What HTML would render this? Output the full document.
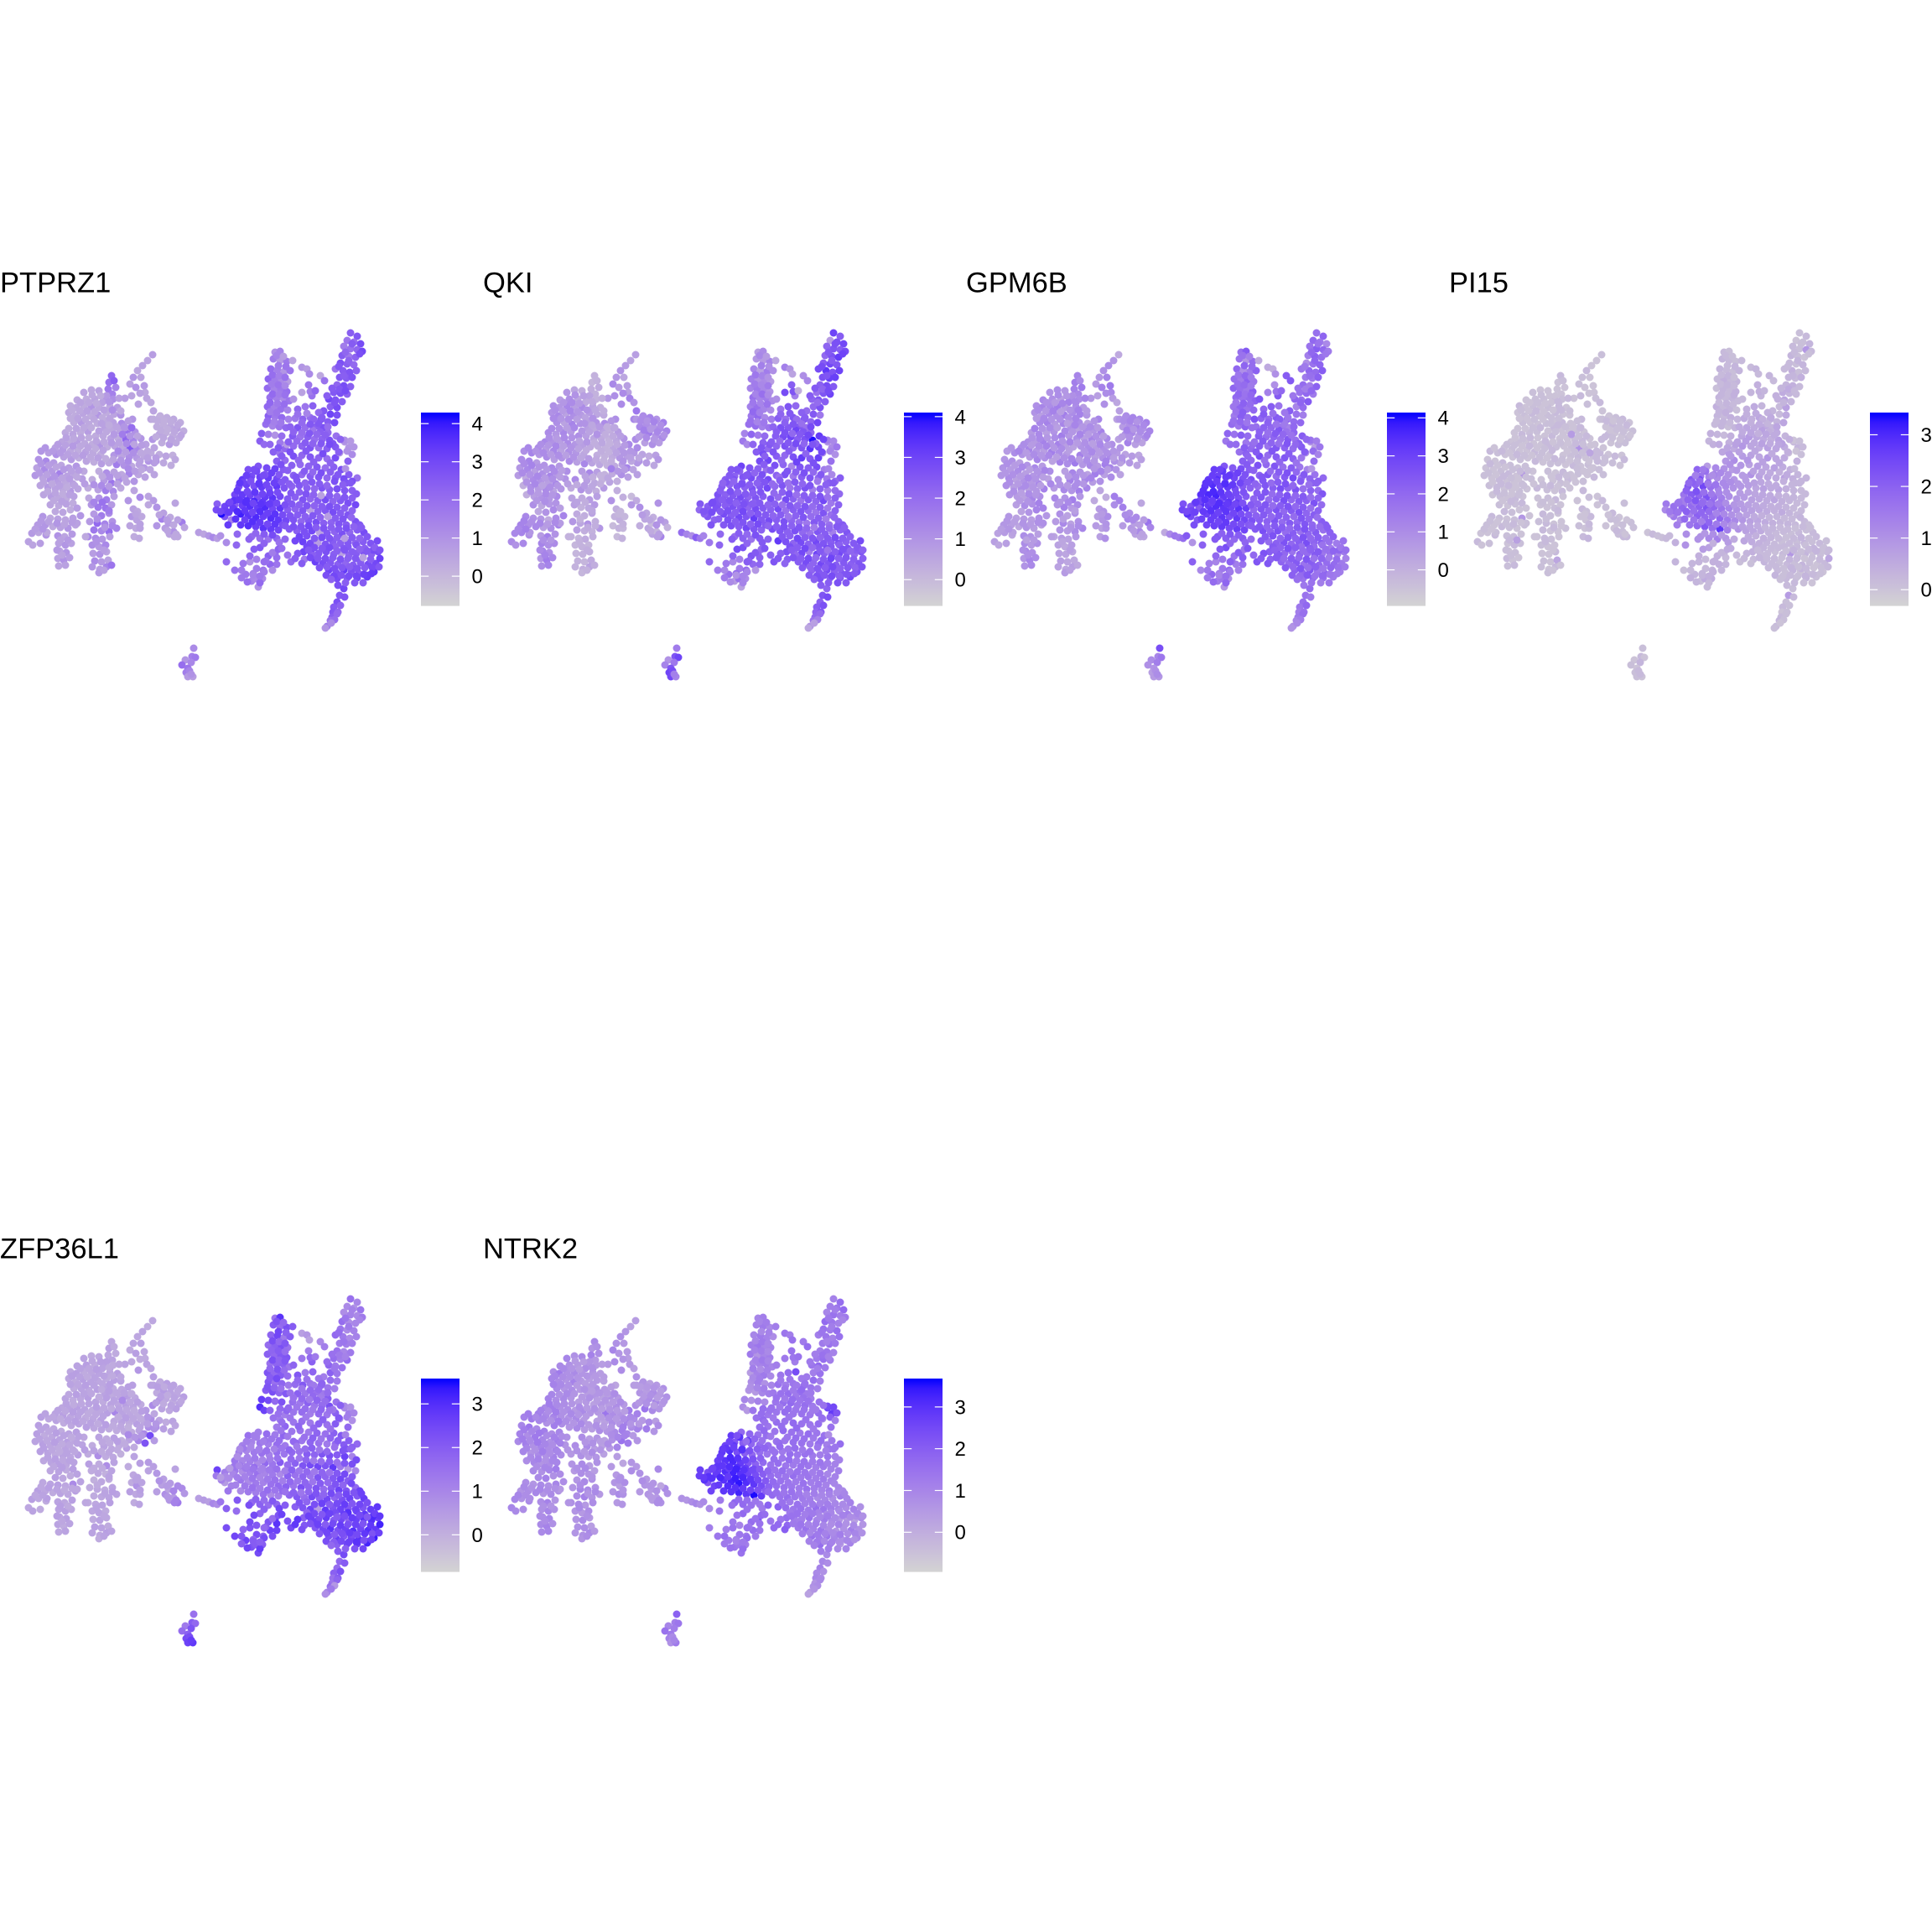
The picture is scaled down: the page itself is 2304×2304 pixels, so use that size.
<!DOCTYPE html>
<html lang="en">
<head>
<meta charset="utf-8">
<title>Feature plots</title>
<style>
html,body{margin:0;padding:0;background:#fff;}
svg{display:block;}
text{font-family:"Liberation Sans",sans-serif;fill:#000;}
</style>
</head>
<body>
<svg id="chart" xmlns="http://www.w3.org/2000/svg" width="2304" height="2304" viewBox="0 0 2304 2304">
<rect x="0" y="0" width="2304" height="2304" fill="#ffffff"/>
</svg>
<script>
const geneNames = ["PTPRZ1","QKI","GPM6B","PI15","ZFP36L1","NTRK2"];
const limitsLow = [-0.78,-0.645,-0.95,-0.314,-0.85,-0.95];
const limitsHigh = [4.29,4.10,4.14,3.43,3.58,3.68];
const tickLabels = [[0,1,2,3,4],[0,1,2,3,4],[0,1,2,3,4],[0,1,2,3],[0,1,2,3],[0,1,2,3]];

const umap1 = [
18.2,17.6,17.0,16.4,16.8,15.9,15.5,16.2,15.7,14.9,17.3,16.5,13.3,13.0,13.6,12.9,13.4,13.8,13.1,12.6,
16.7,17.5,18.0,18.3,18.0,19.0,17.2,15.8,10.0,10.9,11.8,12.7,13.5,14.2,9.2,10.3,11.3,12.2,13.1,14.0,
8.4,9.1,10.0,10.9,11.8,12.7,13.6,14.4,8.2,9.0,9.9,10.8,11.7,12.6,13.5,14.5,15.3,8.8,9.7,10.6,
11.6,12.5,13.4,14.3,15.2,16.1,7.8,8.7,9.6,10.5,11.4,12.3,13.2,14.1,15.0,15.9,16.8,7.4,8.3,9.2,
10.1,11.0,11.9,12.8,13.7,14.6,15.5,16.4,6.6,7.5,8.4,9.3,10.2,11.1,12.0,13.6,14.5,15.4,16.3,17.2,
4.9,5.8,6.7,7.6,8.5,9.4,10.3,11.2,12.1,13.0,13.9,14.8,15.7,16.6,4.6,5.5,6.4,7.3,8.2,9.1,
10.0,11.8,12.7,13.6,14.5,15.4,16.3,4.4,5.3,6.2,7.1,8.0,8.9,9.8,11.0,12.4,13.3,14.2,15.1,16.0,
4.2,5.1,6.0,6.9,7.8,8.7,4.8,5.7,6.6,7.5,8.4,9.3,10.5,11.7,12.6,13.5,14.4,5.2,6.1,7.0,
7.9,8.8,10.6,11.8,12.7,13.6,6.0,7.0,7.9,8.7,10.9,11.7,12.6,13.3,6.6,7.5,8.4,9.2,11.2,12.1,
13.0,5.1,6.0,6.9,7.8,8.7,9.6,10.7,11.6,12.5,13.4,4.5,5.4,6.3,7.2,8.1,9.0,11.2,12.1,13.0,
13.9,3.8,4.6,5.5,6.9,7.7,8.6,10.5,11.4,12.2,13.1,3.4,3.9,4.8,7.0,7.8,11.0,11.8,12.6,8.5,
7.1,7.9,6.9,7.6,8.3,7.0,7.8,6.8,11.1,11.9,12.7,11.3,12.1,12.9,11.0,11.9,12.7,13.3,11.8,12.4,
18.3,19.1,19.9,20.7,21.5,18.7,19.5,20.3,21.1,21.9,19.0,19.8,20.6,21.4,18.2,19.3,20.2,21.0,17.4,18.0,
19.0,19.8,20.6,18.6,19.5,20.4,20.9,17.2,17.9,18.4,16.5,17.3,15.3,16.1,16.9,17.7,18.4,16.7,17.6,18.4,
15.9,16.4,15.7,16.3,16.9,15.5,16.2,16.7,16.0,16.6,16.7,17.7,18.3,17.7,18.7,19.5,20.3,21.7,22.0,18.7,
19.7,20.2,21.2,20.7,21.2,19.3,20.1,20.8,20.9,15.3,16.0,10.2,5.6,9.2,23.7,24.3,24.9,25.4,25.9,26.3,
41.8,42.6,41.4,42.2,43.0,41.0,41.8,42.6,43.2,40.8,41.6,42.4,40.6,41.4,42.2,40.0,40.9,41.7,42.5,40.5,
41.3,40.2,41.0,41.8,39.8,40.6,41.4,39.2,40.0,40.8,39.4,40.2,38.6,39.4,40.2,38.3,39.1,39.9,37.8,38.6,
32.8,33.4,32.6,33.4,34.2,34.9,32.3,33.1,33.9,34.6,32.0,32.8,33.6,34.3,31.9,32.7,33.5,34.2,32.2,33.0,
33.8,34.5,31.9,32.7,33.5,34.3,32.0,32.8,33.6,34.4,31.7,32.5,33.3,34.1,31.2,32.0,32.8,33.6,31.0,31.5,
35.0,36.0,36.8,37.2,35.5,36.4,37.3,38.0,35.2,36.1,37.0,38.0,34.6,35.5,36.4,37.3,38.2,39.1,34.9,35.8,
36.0,36.6,36.9,38.2,38.7,37.0,37.6,36.7,37.5,38.4,39.3,40.1,33.4,34.0,32.6,33.4,34.2,35.0,36.0,37.0,
38.0,39.0,40.0,41.1,41.6,33.0,34.0,35.0,36.0,37.0,38.0,39.0,40.0,41.5,30.8,31.8,32.8,33.8,34.8,35.8,
36.8,37.8,38.8,39.8,40.7,41.6,42.6,30.0,31.0,32.0,33.0,34.0,35.0,36.0,37.0,38.0,39.0,40.0,41.0,42.0,
28.5,29.4,30.3,31.2,32.1,33.0,33.9,34.8,35.7,36.6,37.5,38.4,39.3,40.2,41.1,42.0,28.0,28.9,29.8,30.7,
31.6,32.5,33.4,34.3,35.2,36.1,37.0,37.9,38.8,39.7,40.6,41.5,42.4,28.0,28.9,29.8,30.7,31.6,32.5,33.4,
34.3,35.2,36.1,37.0,37.9,38.8,39.7,40.6,41.5,25.9,26.8,27.8,28.7,29.6,30.5,31.4,32.3,33.2,34.1,35.0,
35.9,36.8,37.7,38.6,39.5,40.4,41.3,42.4,26.8,27.6,28.7,29.6,30.5,31.4,32.3,33.2,34.5,35.4,36.3,37.2,
38.1,39.0,39.9,40.8,41.7,42.6,43.4,30.0,31.0,32.0,33.0,35.2,36.1,37.0,37.9,38.8,39.7,40.6,41.5,42.4,
43.3,44.2,45.0,36.2,37.1,38.0,38.9,39.8,40.7,41.6,42.5,43.4,44.3,45.1,37.6,38.5,39.4,40.3,41.2,42.1,
43.0,43.9,44.8,45.3,39.2,40.1,41.0,41.9,42.8,43.7,44.6,40.2,41.4,42.6,43.8,40.3,41.0,40.5,41.1,40.2,
39.8,40.6,39.7,40.3,39.6,40.2,39.4,39.9,39.0,39.5,38.8,28.3,29.7,31.0,32.0,33.3,34.0,30.3,31.5,32.8,
33.0,31.3,30.8,30.0,29.3,28.8,28.0,27.0,27.0,29.8,30.6,31.4,32.2,33.0,34.7,36.3,37.3,35.5,30.5,31.5,
41.1,41.8,42.2,41.4,42.0,29.6,30.6,31.6,28.9,29.9,30.9,28.6,25.8,26.4,27.3,27.9,29.3,30.3,31.3,32.3,
23.1,22.9,23.3,22.1,21.7,22.8,22.4,22.2,22.6,22.4,23.0,22.8,41.5,42.5,43.5,44.5,40.0,41.0,42.0,43.0,
33.6,34.6,35.6,36.5,37.4,38.5,39.4,40.5,41.2,31.4,32.4,33.3,34.3,35.3,36.3,37.3,38.3,39.4,40.3,41.3,
29.0,29.9,30.9,31.8,32.7,33.6,34.5,35.4,36.4,37.2,38.1,39.0,39.9,40.9,41.8,42.5,28.3,29.5,30.4,31.3,
32.2,33.1,34.7,35.7,36.5,37.4,38.3,39.3,40.2,41.1,42.0,26.9,27.4,28.5,29.4,30.2,31.1,32.1,33.0,34.0,
34.8,35.7,36.6,37.5,38.4,39.3,40.2,41.1,42.0,26.3,27.3,28.3,29.2,30.1,31.0,31.9,32.8,33.7,34.6,35.5,
36.4,37.3,38.2,39.1,40.0,40.9,41.9,42.9,27.2,28.1,29.2,30.1,31.0,31.9,32.8,33.7,34.0,35.0,35.9,36.8,
37.7,38.6,39.5,40.4,41.3,42.2,43.1,30.5,31.5,32.5,35.7,36.6,37.5,38.4,39.3,40.2,41.1,42.0,42.9,43.8,
36.6,37.5,38.4,39.3,40.2,41.1,42.0,42.9,43.8,44.7,45.3,37.0,37.9,38.8,39.7,40.6,41.5,42.4,43.3,44.2,
38.1,39.0,39.9,40.8,41.7,42.6,43.5,44.4,45.2,38.9,39.8,40.7,41.6,42.5,43.4,44.3,41.2,42.3,43.3,39.5,
42.0,41.2,42.9,41.6,40.4,41.0,42.0,39.6,40.5,41.2,39.0,39.9,33.0,33.8,33.2,34.1,32.5,33.3,34.0,32.4,
33.2,34.0,32.5,33.3,34.0,32.2,33.1,33.9,32.2,33.0,31.9,32.7,33.5,35.5,36.6,37.4,38.4,39.1,36.0,37.0,
35.0,36.0,36.9,37.8,38.8,39.7,40.6,32.2,33.2,34.4,35.4,36.4,37.3,38.3,39.3,40.4,33.5,29.4,28.6,30.3,
28.8,29.5,30.2,31.0,31.7,32.5,33.2,29.0,29.8,30.6,31.5,32.5,33.6,34.3,35.2,36.0,36.8,30.2,31.0,28.2,
11.0,12.0,13.0,9.6,10.6,11.5,12.4,13.4,14.4,8.6,9.5,10.4,11.3,12.2,13.1,14.9,15.6,8.4,9.3,10.2,
11.2,12.1,13.0,13.9,14.8,15.7,8.2,9.1,10.0,10.9,11.8,12.7,13.6,14.6,15.5,16.4,7.9,8.8,9.7,10.6,
11.5,12.4,13.3,14.2,15.1,16.0,16.9,6.9,7.8,8.7,9.6,10.5,11.4,12.3,14.1,15.0,15.9,16.8,5.4,6.3,
7.2,8.1,9.0,9.9,10.8,11.7,12.6,13.5,14.4,15.3,4.9,5.8,6.7,7.6,8.5,9.4,12.2,13.1,14.0,14.9,
4.7,5.6,6.5,7.4,8.3,9.2,5.2,6.2,7.1,8.0,8.9,10.1,11.2,12.1,13.0,14.0,5.7,6.6,7.5,8.3,
6.4,7.4,11.2,12.2,13.0,4.9,5.8,6.8,7.7,8.6,11.6,12.5,13.4,4.2,5.1,7.2,8.1,7.4,11.5,12.4,
18.8,19.6,20.4,21.2,19.2,20.0,20.8,21.6,18.6,19.5,20.4,17.6,18.6,16.2,16.7,19.0,19.9,20.7,20.0,21.0
];
const umap2 = [
42.3,43.0,43.6,44.2,45.0,45.0,45.8,46.2,47.2,47.5,46.8,48.2,44.8,45.6,45.4,46.4,47.0,46.2,48.0,47.6,
46.9,47.5,48.0,49.0,50.0,49.8,46.0,50.0,46.8,46.5,46.6,47.2,47.6,47.5,47.7,47.6,47.6,48.0,48.5,48.6,
48.4,48.6,48.4,48.5,48.6,49.2,49.4,49.5,49.2,49.6,49.3,49.6,49.5,50.2,50.4,50.5,50.2,50.4,50.4,50.6,
50.5,51.0,51.2,51.4,51.3,51.5,51.6,51.8,51.6,51.5,52.0,52.0,52.3,52.3,52.4,52.6,52.3,52.7,52.8,52.6,
52.9,53.0,53.1,53.3,53.2,53.4,53.5,53.6,53.4,53.6,53.8,53.7,53.9,54.0,54.2,54.3,54.4,54.5,54.6,54.4,
53.8,54.0,54.2,54.5,54.8,54.6,55.0,55.1,55.3,55.2,55.4,55.5,55.6,55.4,54.8,55.0,55.2,55.5,55.8,55.6,
56.2,56.2,56.4,56.3,56.6,56.5,56.3,55.8,56.0,56.2,56.5,56.8,56.6,57.1,57.2,57.3,57.6,57.2,57.5,57.4,
56.7,57.0,57.2,57.4,57.6,57.7,57.9,58.1,58.3,58.4,58.6,58.3,58.2,58.4,58.5,58.6,58.2,59.0,59.2,59.4,
59.5,59.2,59.4,59.4,59.6,59.2,60.2,60.3,60.1,60.0,60.2,60.5,60.6,60.2,61.0,61.1,60.8,60.6,61.3,61.5,
61.2,61.6,61.8,61.9,62.0,61.8,61.5,62.2,62.4,62.5,62.2,62.6,62.6,62.8,62.9,63.0,62.6,63.2,63.3,63.4,
63.0,63.6,63.5,63.8,63.9,64.0,63.7,64.0,64.2,64.3,64.0,64.6,65.0,64.8,64.8,65.0,65.0,65.2,65.0,64.8,
65.7,65.9,66.6,66.8,66.5,67.5,67.4,65.6,66.0,66.1,65.8,66.9,67.0,66.8,67.6,67.9,67.6,67.4,68.3,68.0,
50.0,49.6,49.8,50.0,50.4,50.9,50.6,50.9,51.1,51.4,51.8,51.6,52.0,52.2,52.4,52.8,53.0,52.8,53.0,54.0,
54.2,54.4,54.3,55.0,55.2,55.5,54.8,55.8,56.0,55.2,56.6,56.9,55.9,56.2,56.0,55.0,56.6,55.0,53.8,53.4,
60.7,61.0,61.6,62.0,61.6,62.7,63.0,63.0,64.0,64.2,59.3,59.2,59.7,60.2,60.5,61.2,61.7,62.3,62.9,62.7,
63.0,63.7,64.0,63.4,62.0,61.9,62.4,64.0,60.0,59.7,58.5,64.0,63.5,62.4,63.5,63.7,63.9,64.1,64.2,63.9,
39.7,40.1,40.6,40.8,41.0,41.3,41.6,41.7,41.9,42.4,42.5,42.6,43.3,43.4,43.5,44.0,44.2,44.4,44.2,45.0,
45.1,45.9,46.0,46.1,46.8,46.9,47.0,47.6,47.7,47.9,48.5,48.6,49.0,49.4,49.5,50.0,50.3,50.4,50.8,51.0,
42.0,41.9,42.8,43.0,43.1,43.0,44.0,44.1,44.3,44.2,45.2,45.3,45.3,45.5,46.3,46.4,46.5,46.7,47.4,47.5,
47.5,47.8,48.5,48.6,48.8,48.9,49.6,49.7,49.8,50.0,50.6,50.8,50.9,51.0,51.7,51.8,51.9,52.0,52.6,53.0,
47.6,46.8,45.9,47.2,48.8,48.5,48.4,49.2,49.9,50.0,49.8,50.5,50.9,51.0,51.0,51.3,51.5,51.6,52.0,52.1,
43.8,44.0,44.6,44.8,45.4,46.7,46.6,52.1,52.4,52.4,52.5,52.0,52.8,53.5,53.9,54.1,53.0,53.2,53.2,53.4,
53.4,53.5,53.3,52.7,53.4,55.0,54.9,54.4,54.3,54.5,54.6,54.7,54.6,55.0,55.6,55.8,55.9,56.0,55.5,55.4,
55.6,55.7,55.8,55.7,56.0,56.6,57.0,56.8,56.9,57.0,57.1,57.2,56.7,56.6,56.8,56.9,57.0,57.0,57.1,57.4,
58.0,57.8,58.0,58.1,58.3,58.0,58.2,58.0,57.9,58.2,58.3,58.2,58.4,58.3,58.5,58.5,59.0,59.0,59.1,59.3,
59.3,59.4,59.2,59.5,59.3,59.6,59.5,59.7,59.6,59.8,59.7,60.0,60.2,60.2,60.3,60.4,60.6,60.5,60.7,60.6,
60.8,60.7,60.9,60.8,61.0,60.9,61.1,61.2,61.4,60.1,60.4,60.6,61.3,61.5,61.7,61.6,61.8,62.0,62.1,62.0,
62.2,62.1,62.3,62.4,62.3,62.5,62.6,62.2,61.6,62.0,62.6,62.7,62.8,63.0,63.1,63.2,63.1,63.3,63.4,63.3,
63.5,63.6,63.4,63.7,63.5,63.2,63.5,64.0,64.2,64.3,64.2,64.5,64.6,64.8,64.7,64.9,64.6,64.8,64.7,64.8,
64.6,64.8,64.5,65.8,65.9,66.0,65.8,66.1,66.0,66.2,66.0,65.9,66.1,65.8,67.0,67.2,67.1,67.3,67.2,67.4,
67.1,67.3,67.2,66.6,68.0,68.3,68.0,68.2,68.4,68.6,68.2,69.0,68.9,68.9,68.8,69.8,70.2,71.0,71.2,71.8,
72.4,72.2,73.0,73.0,73.6,73.2,74.0,73.9,74.7,74.3,74.9,63.7,64.3,65.3,66.3,64.7,64.3,65.5,64.8,66.0,
67.3,69.0,70.0,69.3,68.5,68.0,68.0,67.0,64.7,67.0,67.8,68.0,67.3,66.5,67.0,66.7,66.2,66.0,69.0,68.2,
52.5,52.6,53.3,53.8,54.2,56.0,56.2,56.6,57.2,57.2,57.6,59.6,60.8,61.3,60.0,59.7,59.9,59.8,59.9,60.0,
77.3,78.3,78.4,78.7,79.3,79.0,79.7,80.2,80.0,80.7,80.7,80.4,65.2,65.0,65.4,65.6,65.2,65.4,67.8,67.0,
54.4,53.9,54.9,53.8,55.1,54.1,55.2,54.0,55.9,56.7,56.4,56.6,56.1,56.9,56.2,56.3,56.4,56.3,56.6,57.6,
57.5,57.4,57.7,57.8,57.6,57.5,57.7,57.3,57.6,57.5,57.7,57.9,57.4,57.8,57.6,58.9,58.5,58.6,58.7,58.9,
58.8,58.7,58.8,58.7,58.9,59.0,59.1,59.1,59.2,59.3,59.4,60.9,59.9,59.6,59.7,60.0,60.1,60.1,60.0,60.2,
60.1,60.2,60.3,60.3,60.4,60.4,60.5,60.6,60.9,61.0,61.1,61.0,60.9,61.1,61.0,61.2,61.3,61.4,61.5,61.4,
61.6,61.5,61.7,61.6,61.8,61.9,61.7,62.6,62.6,61.9,62.0,62.2,62.3,62.5,62.5,62.6,62.7,62.8,62.8,62.7,
62.9,63.0,62.9,63.1,63.0,62.8,62.9,63.6,63.7,63.8,64.0,63.9,64.2,64.1,64.2,64.1,64.2,64.1,64.2,64.0,
65.2,65.3,65.4,65.3,65.7,65.6,65.8,65.5,65.7,65.3,65.6,66.5,66.6,66.6,66.5,66.7,66.6,66.6,66.5,66.7,
67.7,67.6,67.8,67.7,67.6,67.8,67.7,67.7,67.6,68.6,68.7,68.6,68.7,68.7,68.5,68.4,69.5,69.5,69.5,69.1,
41.0,42.0,42.2,43.0,43.7,44.8,45.0,46.3,46.4,46.6,47.2,48.0,42.4,42.5,43.6,43.7,44.7,44.8,45.0,45.8,
45.9,46.0,47.0,47.0,47.1,48.0,48.1,48.2,49.1,49.2,50.2,50.3,50.4,49.4,49.3,50.0,49.8,50.9,50.4,50.6,
51.5,51.6,51.7,51.8,51.9,52.9,52.4,53.0,53.4,52.7,52.6,52.8,52.9,52.9,53.0,53.9,55.4,56.7,57.6,56.0,
68.9,69.4,68.4,69.5,66.9,65.9,65.5,67.2,66.3,66.7,67.0,68.0,65.4,66.2,66.6,67.2,65.6,68.6,68.7,65.0,
47.1,47.2,47.9,48.0,48.0,48.1,48.9,48.9,49.0,48.9,49.0,49.0,49.1,49.8,49.9,51.0,51.0,49.9,49.9,50.0,
50.0,50.5,50.7,50.9,50.9,51.0,51.1,51.1,51.0,51.0,51.4,51.5,51.8,51.8,52.0,52.0,52.2,52.3,52.2,52.2,
52.6,52.7,52.8,52.8,52.9,53.0,53.1,53.0,53.1,53.2,53.2,53.4,53.5,53.7,53.8,53.9,54.0,54.0,53.4,53.8,
54.0,54.2,54.3,54.3,54.5,54.6,54.7,54.8,54.9,55.0,55.3,55.5,55.7,56.0,56.2,56.1,56.8,56.9,56.7,57.0,
56.4,56.6,56.8,57.0,57.1,56.9,57.5,57.7,57.9,58.1,57.9,57.7,57.8,57.9,58.0,57.7,58.6,58.8,58.9,59.0,
59.7,59.8,59.9,59.9,60.9,62.1,62.2,62.4,62.5,62.3,61.9,62.9,62.7,63.1,63.1,64.4,64.4,66.2,64.6,65.6,
50.2,50.2,50.3,50.7,51.3,51.2,51.5,51.9,52.1,52.2,52.4,54.6,54.6,61.3,62.5,61.4,62.0,62.6,63.3,63.7
];

const exprPTPRZ1 = [
.7,.5,.6,.4,.5,.9,.6,1.0,.5,.7,.4,.6,2.2,1.9,2.4,1.7,1.5,1.4,1.2,.9,
.6,.5,.4,.5,.4,.3,.8,.9,.5,.4,.6,.8,1.1,.6,.4,.3,.5,.6,.4,.7,
.3,.4,.3,.9,.4,.3,.5,1.0,.4,.3,.5,.3,.9,.4,.6,1.2,.7,.3,.8,.4,
.3,.6,.4,.5,1.9,1.0,.4,.5,.3,.7,.3,.4,.6,.3,2.2,1.4,.9,.5,.3,.7,
.4,.3,.9,.3,.5,.4,2.6,1.3,.6,.8,.4,.3,.6,.4,.3,.9,.5,1.1,.8,.4,
.9,.7,1.1,.6,.8,.3,.5,.3,.7,.4,1.6,1.0,.4,.6,1.0,1.3,.8,.5,.7,.9,
.4,.3,1.1,.6,.4,1.4,.5,.6,1.2,.8,1.5,.6,.4,.7,.3,.8,1.8,1.2,.5,.9,
.9,.5,1.0,.7,.4,.6,.5,.8,.6,.4,.8,.5,.3,.6,1.6,1.3,.4,.5,.7,.4,
.3,.6,.4,1.0,1.6,.7,.5,.4,.6,.3,.9,1.7,1.8,.8,.4,.5,.3,.7,.8,1.6,
1.2,.9,.4,.6,.5,.7,.9,.8,2.1,1.4,1.0,.8,.9,.4,.6,.9,.5,1.7,1.3,2.0,
1.4,.8,.5,.9,1.0,.5,.8,1.3,1.2,.9,.7,.6,.5,.7,.6,.9,1.1,.8,1.3,.6,
.5,.9,.6,1.0,.7,.5,.6,.8,.7,1.0,.5,1.2,.8,.6,.9,.7,1.4,1.8,.8,.6,
.3,.2,.3,.4,.3,.3,.2,.4,.6,.3,.5,.2,.3,.4,.9,.3,.8,.4,.6,.3,
.3,.5,.2,.9,.4,.3,.4,.8,.5,.7,.5,.6,1.2,.7,.4,.9,.5,.6,.4,.5,
.6,.4,.9,.6,.4,.5,.4,.6,.3,.4,1.3,.5,.8,.4,1.0,.6,.4,1.6,.5,.9,
.7,.5,.4,1.0,.6,1.5,.8,.4,.5,.9,.5,.4,.4,.6,.7,.5,.9,1.3,.7,1.0,
2.4,2.6,1.8,2.0,2.9,1.6,1.9,2.2,3.0,2.5,1.7,2.3,2.8,2.4,2.1,1.8,2.5,2.7,2.3,2.6,
2.5,2.2,2.9,2.4,2.6,2.8,2.3,3.0,2.7,2.5,2.4,2.9,2.6,3.1,2.8,2.7,2.5,2.9,2.4,2.8,
1.0,1.4,1.6,.8,1.7,.5,2.0,1.5,.9,1.8,2.3,1.6,1.2,.7,2.1,1.4,1.7,2.0,1.9,1.5,
1.2,1.8,2.2,1.5,1.9,1.4,2.4,1.7,2.1,1.5,2.0,1.4,1.8,2.2,2.5,1.6,1.0,2.0,2.4,2.1,
1.0,.6,1.8,1.9,2.2,1.8,2.4,2.1,1.7,2.3,2.0,2.6,2.3,2.7,2.0,1.8,2.4,2.2,2.6,1.9,
.9,.7,1.2,.4,1.9,1.6,2.2,2.4,2.0,2.3,2.8,1.9,1.7,2.2,2.4,1.9,.8,2.1,2.3,2.7,
2.0,2.4,2.6,.8,.9,2.5,2.1,2.8,2.2,2.6,2.3,2.0,2.9,2.4,2.7,2.9,3.2,2.5,2.4,2.1,
2.3,2.6,2.0,2.4,2.8,2.5,1.9,2.9,3.2,3.3,3.0,2.6,2.4,2.1,2.5,2.7,2.2,2.6,2.9,2.8,
2.9,3.2,2.8,3.3,2.9,3.4,2.7,2.3,2.6,2.4,2.2,2.7,2.5,2.8,2.6,2.4,3.0,3.3,3.1,2.8,
3.3,3.5,3.0,2.6,2.4,2.7,2.2,2.5,2.9,2.3,2.6,2.8,3.0,2.4,3.2,3.6,3.3,3.7,3.0,3.4,
2.5,2.3,2.7,.6,2.4,2.6,2.9,2.5,2.7,2.4,3.1,3.3,3.9,3.5,3.7,3.2,3.6,3.4,3.0,2.7,
2.2,2.6,2.9,2.4,2.3,2.7,2.5,2.8,2.7,1.5,3.4,3.6,3.2,3.5,3.3,3.1,2.6,2.4,2.8,3.0,
.5,2.6,2.3,2.8,2.2,2.5,2.9,2.1,2.0,1.9,2.3,3.0,3.2,2.9,.7,2.7,2.5,2.4,2.6,2.3,
2.5,2.7,2.9,3.1,3.3,2.6,2.8,2.4,.6,2.3,2.5,2.7,2.4,2.9,3.2,2.9,2.6,2.4,2.2,2.5,
2.6,2.9,3.0,3.2,3.1,2.8,3.3,2.7,2.5,3.2,3.4,2.9,2.6,3.0,3.3,2.8,3.0,2.6,2.7,2.8,
2.5,2.3,2.6,2.2,2.4,2.1,1.9,2.0,1.7,1.2,.9,2.2,2.3,2.6,2.4,1.9,2.2,2.5,2.3,2.0,
1.8,1.3,1.0,1.4,1.7,1.6,1.9,2.1,1.2,1.0,1.6,1.8,2.2,2.0,2.1,1.7,2.4,2.6,1.3,1.6,
1.1,.8,.9,1.0,1.2,2.8,3.0,2.7,3.4,3.1,3.3,3.2,2.9,4.2,3.3,3.5,3.6,3.8,3.4,3.2,
1.2,1.5,1.7,.9,2.0,1.3,1.8,1.6,1.4,.8,.7,1.0,2.6,2.7,2.4,2.9,2.3,2.6,2.8,2.5,
2.5,2.8,2.2,2.6,2.4,2.9,2.3,.8,1.0,2.9,3.2,2.6,2.4,2.7,2.5,2.2,2.8,2.4,2.6,2.7,
3.1,2.8,3.4,3.0,3.2,2.6,2.4,2.7,2.3,2.6,2.5,2.2,2.8,2.4,2.6,2.5,3.3,3.0,3.4,3.1,
3.2,2.9,2.6,2.4,2.7,2.3,.6,2.5,2.2,2.6,2.4,3.2,3.0,3.4,3.6,3.1,3.5,3.3,3.0,2.8,
2.6,2.4,2.7,2.3,2.5,2.8,2.6,2.4,2.3,3.0,3.3,3.7,3.4,3.1,3.6,3.2,3.5,2.9,2.7,2.5,
2.4,2.6,2.3,.7,2.5,2.7,2.2,2.6,3.3,3.5,3.2,3.6,3.3,3.0,3.4,2.8,2.6,2.8,2.7,3.0,
2.5,2.7,2.4,2.6,2.8,2.3,2.5,2.2,2.5,2.9,3.1,2.8,2.6,2.9,2.7,2.4,.7,2.5,2.3,2.6,
3.0,2.8,2.6,2.9,2.4,2.7,2.5,2.3,2.6,2.4,2.7,2.9,2.6,2.8,2.5,2.7,2.4,2.6,.6,2.5,
2.7,2.5,2.8,2.6,2.4,2.7,2.5,2.9,2.6,2.8,3.0,2.7,2.9,3.0,3.2,3.3,2.4,2.6,2.5,2.3,
2.5,2.2,2.8,2.3,2.6,2.4,2.7,2.5,2.6,2.9,2.4,2.7,1.4,.7,1.6,1.8,2.0,1.5,1.9,1.6,
1.8,1.3,2.1,1.6,1.9,2.2,1.7,2.0,1.6,1.8,2.1,1.5,1.7,1.9,1.4,2.3,2.5,2.0,2.1,2.6,
2.3,2.0,2.6,2.2,2.4,2.7,2.3,2.2,2.6,2.4,2.1,2.5,2.3,2.6,2.9,2.4,2.8,3.2,3.4,2.9,
1.7,2.0,1.5,2.1,1.9,1.6,2.3,1.8,2.2,1.5,2.0,1.2,2.0,1.8,2.4,2.5,2.6,1.4,1.7,2.2,
.4,.3,.9,.5,.4,.3,.6,1.1,.4,.3,.4,.6,.4,.3,.5,.9,.7,.3,.5,.4,
.4,.6,.3,.5,.9,2.0,.3,.5,.4,.3,.6,.4,.8,1.6,.9,.5,.6,.4,.5,.3,
.5,.4,.8,.6,1.2,.5,.7,.7,.6,.8,.4,.5,.3,.6,1.3,.7,1.1,.4,.9,.8,
.8,.6,.5,.7,.4,.6,.3,.5,.9,1.2,.9,.7,.5,.8,.6,.7,.4,1.0,.6,.5,
.8,.6,.9,.5,.7,.4,.5,.4,.6,.3,.5,.7,1.0,1.2,.8,.6,.4,.5,.3,.6,
.4,.6,1.4,1.9,1.6,.8,.6,.9,.5,.7,1.1,.9,1.3,.7,.9,.6,.8,.5,1.0,.7,
.3,.2,.3,.4,.3,.2,.4,.5,.3,.4,.5,.6,.7,.5,.6,.5,.7,.4,.5,.4
];
const exprQKI = [
.7,.6,.8,1.0,.5,.9,1.3,.8,1.1,.9,.6,1.2,.2,.1,.2,.3,.2,.4,.5,.3,
1.2,1.4,1.0,1.7,1.3,.8,.7,1.1,.9,.5,.3,.6,.2,.3,.7,1.1,.5,.4,.6,.3,
1.1,.9,1.3,.7,1.2,.8,.5,.4,1.0,1.3,.6,1.1,.8,.7,1.0,1.2,.9,1.1,.6,1.4,
1.0,.7,.4,.6,.3,.8,1.2,.9,1.3,.8,1.1,.7,.5,.4,.2,.5,1.0,1.3,1.0,.7,
1.2,.9,.7,.4,.3,.2,.5,.9,1.2,.8,1.3,.6,1.1,.9,.5,.3,.2,.4,.9,.7,
1.1,1.4,.9,1.2,.8,1.0,1.2,.7,1.3,.6,.5,.2,.4,.7,1.2,1.4,.8,1.0,1.3,.9,
1.1,.8,1.3,.7,.2,.4,.1,.9,1.3,.7,1.1,1.4,.8,1.0,1.2,.7,.5,.2,.6,.3,
.8,.4,1.2,1.0,.7,1.3,.3,1.1,.8,1.2,.6,.9,.4,1.0,.6,.3,.8,.3,.7,1.0,
.9,1.2,.6,.4,.8,.7,1.1,.5,.9,1.0,.7,.2,.5,.8,.5,1.0,1.2,.7,.4,.3,
.6,1.3,1.0,.9,.4,1.2,1.4,.9,.5,1.0,.3,1.4,1.1,1.3,.7,1.1,1.4,.7,.3,.2,
.9,1.3,1.4,1.1,.8,1.5,1.0,.2,.1,.4,.3,1.2,1.0,1.3,1.4,1.1,.1,.2,.1,1.2,
1.4,1.1,.9,1.6,1.3,1.1,1.4,1.2,.1,.2,.3,.2,.1,.4,.2,.3,.6,.3,.1,.2,
.9,1.2,1.4,1.0,1.5,1.3,1.1,.9,1.2,1.4,.8,1.6,1.0,1.3,1.2,.7,1.1,.8,1.3,.9,
.6,.4,.7,1.0,.8,.5,.9,1.4,.6,.9,1.1,.7,1.5,.9,.8,.5,.7,1.0,.9,1.2,
.3,.1,.2,.3,.1,.0,.2,.1,.0,.2,.3,.0,.4,.9,1.1,.5,.3,.7,.2,.3,
.5,.6,1.4,.1,.9,.5,.0,.7,1.0,1.0,.3,.2,.9,.8,2.0,1.4,1.1,2.4,1.7,1.4,
3.0,2.4,.8,2.7,2.9,2.2,2.6,2.4,2.8,2.1,2.7,3.2,2.4,2.9,2.5,2.8,3.3,2.6,3.0,2.7,
3.1,2.3,2.8,2.5,1.9,2.6,3.0,2.2,2.6,2.4,2.1,2.7,2.0,2.5,1.7,2.6,2.2,2.9,2.5,1.9,
.7,1.2,.9,.8,1.4,.5,1.3,.6,1.6,1.1,1.5,1.0,1.2,.8,1.4,1.7,1.3,1.0,1.9,1.4,
1.6,1.2,1.5,1.9,1.4,1.2,1.7,2.1,1.3,1.6,1.9,2.0,1.5,1.8,1.4,2.2,1.6,2.0,1.7,1.3,
1.1,2.8,2.4,1.5,1.8,2.6,2.1,2.3,2.4,1.9,2.6,1.9,2.2,2.7,2.5,3.0,2.6,2.2,2.4,2.8,
1.5,.9,.6,1.1,1.3,2.6,.3,3.0,2.4,2.7,4.0,3.2,2.3,2.1,2.4,2.8,2.5,2.2,2.7,2.1,
2.6,3.4,2.9,1.0,1.2,2.8,3.0,2.4,2.1,2.7,3.2,2.5,3.1,1.9,3.0,2.6,2.3,1.9,2.7,2.2,
1.4,2.6,2.4,2.8,1.6,1.3,2.4,2.3,2.6,2.8,2.5,2.9,2.3,2.7,1.7,2.4,2.6,2.2,1.7,2.1,
2.4,2.2,2.6,2.3,2.7,2.5,2.9,2.1,2.6,1.8,2.3,2.7,1.5,2.3,1.6,2.0,2.7,2.3,2.5,2.8,
2.2,2.6,2.4,2.7,2.0,2.8,2.3,1.8,2.5,2.2,2.9,1.7,2.3,2.6,2.4,2.7,2.5,2.2,2.8,2.5,
2.3,2.8,1.9,2.4,2.6,2.1,1.8,2.6,1.9,2.5,2.4,2.7,2.8,2.4,2.9,2.6,3.2,2.5,2.8,2.4,
2.7,2.2,2.0,1.7,2.5,2.4,1.9,2.3,2.6,2.2,2.5,2.7,2.4,2.9,2.6,2.3,2.8,2.6,2.3,2.7,
2.1,1.8,2.6,2.4,1.5,2.3,2.6,2.0,2.3,1.8,2.5,3.2,2.7,2.2,2.8,2.3,2.9,2.6,2.4,2.7,
2.3,2.5,2.8,2.7,2.2,2.9,1.6,3.0,2.3,2.6,2.9,2.4,2.1,2.6,2.4,2.8,2.2,2.9,2.6,2.4,
2.5,2.3,2.6,2.4,2.2,2.5,2.8,2.3,2.6,2.4,2.7,2.7,2.3,2.5,2.9,2.4,2.2,2.6,2.8,2.3,
2.4,2.7,2.2,2.6,2.1,2.0,1.8,1.5,1.0,.7,.5,2.1,2.4,2.7,2.6,2.5,2.3,2.8,2.2,2.0,
2.2,1.2,.6,.8,1.9,1.3,1.6,2.1,1.7,1.3,1.6,2.0,2.1,2.3,2.6,2.4,2.1,2.3,1.9,1.4,
1.5,1.3,1.7,1.4,1.1,2.5,2.3,2.6,2.4,2.7,2.2,2.5,2.1,2.3,2.8,2.6,2.4,2.7,2.5,2.3,
1.6,2.6,3.0,1.0,1.4,1.7,2.6,3.0,2.8,2.9,1.4,1.5,2.5,2.3,2.7,2.4,2.6,2.8,2.3,2.5,
2.3,2.6,2.1,2.4,3.0,2.2,2.7,1.2,1.4,2.5,2.2,2.7,2.4,1.9,2.6,2.3,2.7,2.1,2.5,2.4,
2.6,2.2,2.7,2.4,2.3,2.6,2.0,2.4,1.8,2.5,2.2,2.6,1.7,2.3,2.5,2.1,2.4,2.7,2.3,2.5,
2.4,2.6,2.1,2.3,2.7,1.9,2.4,2.2,2.6,1.8,2.3,2.5,2.8,2.4,2.6,2.3,2.7,2.4,2.5,2.2,
2.3,1.9,2.5,2.2,2.6,2.0,2.4,1.7,2.3,2.6,2.8,2.5,2.7,2.4,2.9,2.3,2.6,2.5,2.2,2.4,
1.8,2.3,2.6,2.0,2.4,1.6,2.2,2.5,2.6,2.3,2.7,2.4,2.6,2.3,2.8,2.5,2.2,2.4,2.7,2.3,
2.6,2.2,1.6,2.4,2.1,2.5,2.3,2.4,2.1,2.7,2.5,2.3,2.9,2.4,2.6,2.2,2.5,2.8,2.4,2.3,
2.7,2.4,2.9,2.1,2.5,1.8,2.4,2.7,2.2,2.5,2.3,2.6,2.4,2.8,2.1,2.5,3.0,2.3,2.6,2.4,
2.5,2.2,2.6,2.4,2.8,2.3,2.5,2.2,2.6,2.4,2.7,2.5,2.8,2.3,2.6,2.5,2.4,2.7,2.5,2.3,
2.7,2.5,3.0,2.4,2.8,2.6,3.1,2.5,2.2,2.8,2.4,2.0,1.3,.8,1.5,1.1,1.7,1.4,1.0,1.6,
1.3,1.6,1.4,1.9,1.2,1.7,1.4,1.8,2.1,1.5,1.9,1.4,1.7,2.2,2.5,2.0,2.4,2.8,2.3,2.6,
2.4,2.7,2.1,2.5,2.9,2.3,3.0,2.2,2.6,2.4,2.0,2.5,2.8,2.2,2.6,2.9,2.4,2.5,2.2,2.6,
1.6,1.2,2.0,1.4,2.3,2.5,2.1,1.7,2.2,1.5,2.4,.9,2.6,2.3,2.5,2.2,2.4,1.0,1.4,2.2,
1.0,.7,.4,.9,1.2,.8,1.0,.5,.3,1.1,.8,1.3,.9,.6,1.0,.2,.6,1.2,.9,1.1,
.7,1.0,.5,.8,.3,.5,1.2,1.0,.7,1.3,.9,.6,1.0,.3,.4,.7,1.1,.8,1.2,1.0,
.6,.9,.3,.5,.2,.4,.8,1.1,.9,1.3,.7,1.0,.6,.4,.3,.2,.6,.9,1.3,1.0,
1.2,.8,1.1,.7,1.0,.5,.8,.4,.2,.3,1.2,1.4,1.0,.9,1.2,.7,.6,.3,.2,.5,
1.2,1.0,1.3,.8,1.1,.7,1.0,1.3,.6,1.1,.9,.7,.4,.8,.5,.3,1.1,.8,1.2,.9,
.9,1.1,.6,.3,.5,1.4,1.1,1.3,.8,1.2,.2,.4,.3,1.3,1.5,1.1,.9,1.4,.2,.3,
1.2,1.0,1.4,1.1,1.5,.9,1.3,1.0,.8,1.2,.9,.7,.5,.1,.2,.8,.5,1.0,.4,.7
];
const exprGPM6B = [
.2,.8,1.0,.9,1.2,.7,.6,1.3,.5,.7,1.1,.9,1.2,1.4,1.0,1.3,1.1,1.5,1.2,1.0,
1.0,.6,.3,.5,.4,.7,1.5,1.2,.8,1.0,.7,.9,1.0,1.2,1.1,.9,.5,1.3,1.0,.6,
.9,1.2,1.0,1.4,.6,1.0,1.3,.7,.8,.5,1.1,.9,1.4,.6,1.0,.4,.8,1.1,1.3,.6,
1.2,.9,.4,1.0,.7,1.3,.6,1.1,.5,.8,1.4,.7,1.0,.5,1.2,.8,1.1,.9,.6,1.3,
.7,1.3,.5,.4,.8,1.0,.6,.9,.9,1.2,.7,.5,1.4,1.0,.6,1.3,.8,.5,.9,1.1,
.6,1.0,.8,.6,1.2,.9,.4,1.3,1.0,1.5,.7,1.1,.6,1.4,.7,.9,.5,.8,1.1,.6,
1.0,.5,1.2,.8,.4,1.4,.9,.8,.6,1.0,.5,.7,.9,.4,.8,1.3,1.0,1.2,.6,.9,
.7,1.0,.4,.8,.6,1.1,.9,.5,1.0,.4,.7,1.3,.6,1.1,.8,1.4,1.2,.8,.6,.4,
1.2,.9,1.1,.8,1.4,.7,.5,1.0,.9,1.3,.7,1.3,.6,1.0,.4,.8,1.2,1.3,.9,.4,
.8,.7,.4,.6,.5,.9,.7,.6,1.1,.4,.9,.7,.5,.3,.8,.5,.4,.8,.6,1.0,
1.2,.4,.6,.3,1.0,.8,.5,.3,.6,.4,.7,.5,.3,.5,1.0,.6,.4,.2,.5,.9,
1.1,.9,.7,1.2,1.0,.8,1.1,.9,.4,.3,.2,.5,.3,.2,.4,.3,.5,.2,.6,.4,
.8,1.0,1.2,1.1,1.3,.6,.9,1.3,.8,1.2,.9,1.1,.7,1.0,.4,1.3,.5,.4,.9,.6,
.4,.6,.3,1.0,.7,.4,.5,1.2,.8,.4,.5,1.0,.7,1.2,.6,.9,.4,1.3,.7,.8,
.6,.8,.5,.7,1.0,.6,.4,.7,.5,.9,.1,1.4,1.3,1.0,1.4,.9,1.1,1.7,1.2,.6,
.7,.4,.3,1.1,.6,1.2,.5,.3,.3,.2,.3,.5,.4,.9,.2,1.1,1.6,1.5,1.9,2.4,
1.8,2.1,2.0,1.6,1.1,1.7,2.3,2.0,1.5,1.4,2.2,1.8,.9,1.7,2.1,1.6,2.0,1.9,2.3,1.5,
1.6,1.9,1.4,2.2,1.7,2.0,1.5,2.1,1.8,2.4,1.2,1.9,2.3,1.7,1.4,2.2,1.9,2.0,1.6,1.3,
1.8,2.4,1.7,.7,1.9,.2,2.0,.9,1.5,2.2,1.8,1.4,2.2,1.6,2.1,1.8,1.5,2.3,2.0,1.7,
1.9,2.2,1.6,2.1,1.7,2.0,1.5,2.3,1.8,2.6,1.9,1.6,2.2,1.8,2.1,1.7,2.3,1.9,1.6,1.9,
2.5,1.3,.9,2.4,2.0,2.3,1.7,1.6,2.1,1.9,2.4,1.5,1.8,2.2,2.0,2.5,1.7,2.1,2.3,1.9,
.2,.1,.9,2.3,2.4,1.7,2.0,2.1,1.9,2.4,1.8,2.3,1.6,2.0,1.8,2.2,1.9,2.3,1.7,2.5,
2.2,1.9,2.4,.8,.5,2.3,2.0,2.7,1.9,2.3,2.5,2.2,1.6,1.9,2.5,2.4,2.7,2.3,2.6,2.0,
2.5,1.8,2.3,1.6,1.3,1.7,2.0,3.0,3.2,2.9,2.6,2.7,2.2,2.6,1.9,2.4,2.8,1.7,2.1,2.3,
3.3,3.5,3.0,3.2,2.8,2.4,2.2,1.9,2.5,2.3,2.7,2.1,2.6,1.8,2.2,1.9,3.4,3.6,3.7,3.2,
2.9,2.7,2.4,2.1,2.5,1.9,2.3,2.7,2.0,2.4,2.2,2.6,1.9,3.4,3.2,3.5,3.3,3.0,3.4,3.1,
2.0,2.5,2.2,2.6,2.0,2.4,2.7,2.1,2.3,2.6,2.5,2.4,3.0,3.1,3.3,2.7,3.2,2.9,2.6,2.3,
2.2,2.6,1.9,2.4,2.1,2.5,2.0,2.3,2.8,2.5,2.9,3.0,3.2,2.8,3.1,2.9,2.4,2.7,2.1,2.6,
1.9,2.3,1.7,2.1,2.4,1.8,2.2,2.5,2.3,2.0,2.4,2.4,1.9,2.2,2.6,2.0,2.3,2.7,2.1,2.4,
1.8,1.5,1.7,2.3,2.6,2.0,1.7,2.2,1.9,2.4,1.6,1.8,1.3,1.5,2.1,1.9,2.4,1.7,2.3,2.0,
1.6,1.9,1.5,1.3,2.2,2.0,2.5,1.7,2.1,1.6,1.4,1.7,2.2,1.8,1.5,1.6,1.9,1.7,1.5,1.8,
1.6,2.0,1.4,1.7,1.5,1.8,1.2,1.4,.9,1.1,.8,2.3,2.4,2.7,1.7,2.1,1.9,2.4,2.0,1.6,
1.8,.9,.7,1.4,2.0,1.5,1.1,2.2,.8,1.2,1.6,1.9,1.4,2.3,2.5,2.2,2.4,2.6,1.6,1.5,
1.7,1.4,1.6,1.9,1.3,3.1,3.3,2.8,3.2,3.5,3.0,2.6,2.9,3.4,2.7,2.9,3.0,2.8,3.3,3.2,
2.7,1.2,1.6,1.0,.9,1.4,.8,.5,.9,.6,.7,1.0,1.9,1.7,1.4,2.1,1.8,2.3,1.6,1.9,
2.1,2.4,1.8,2.5,2.0,2.3,1.7,.9,.7,3.2,3.0,2.6,2.2,2.5,1.9,2.3,2.6,2.0,2.4,2.2,
3.3,3.1,3.5,3.2,2.9,2.4,2.1,2.5,1.9,2.3,2.6,2.0,2.4,1.8,2.2,2.5,3.4,3.6,3.3,3.0,
2.8,2.6,2.3,2.5,1.9,2.2,2.6,2.0,2.4,1.8,2.1,2.9,3.2,3.4,3.1,3.5,3.2,2.9,2.6,2.4,
2.2,2.5,1.9,2.3,2.6,2.0,2.3,1.8,2.2,2.8,3.0,3.2,3.4,3.0,3.3,2.9,2.7,2.5,2.2,2.4,
2.0,2.4,2.2,1.9,2.5,2.1,1.8,2.3,2.7,3.0,3.1,2.9,3.2,2.8,2.6,2.4,2.3,2.5,2.1,2.4,
2.3,2.0,2.4,2.6,2.1,1.9,2.3,2.2,2.5,2.3,2.4,2.6,2.1,2.5,2.2,2.6,2.0,2.3,1.8,2.2,
2.4,2.1,2.6,2.3,1.9,2.2,2.4,1.8,2.1,1.6,1.8,2.4,1.9,2.3,2.0,2.5,1.7,2.1,1.5,1.9,
2.3,2.0,2.5,1.8,2.2,1.6,2.0,1.7,1.5,2.2,1.9,2.4,1.7,2.0,1.6,1.5,1.7,1.4,1.6,1.8,
1.7,2.0,1.6,2.1,1.5,1.8,2.2,1.7,1.4,2.0,1.6,2.1,1.7,1.3,2.1,1.9,1.6,2.0,1.5,1.8,
1.9,1.5,2.1,1.7,2.0,1.6,2.2,1.9,1.7,2.3,1.8,2.0,1.6,2.4,1.8,2.3,1.6,2.0,2.2,1.7,
2.2,1.8,2.4,2.0,1.7,2.3,2.0,1.9,2.3,1.8,2.4,2.1,1.8,2.5,2.0,2.3,2.4,3.1,3.3,3.0,
1.5,1.9,1.4,2.1,1.7,2.3,1.6,1.4,2.0,1.6,2.2,1.3,2.5,2.0,2.3,2.5,2.2,1.2,1.8,2.2,
1.0,.7,1.1,.9,.6,1.2,.8,1.3,.6,1.0,.7,1.3,.5,.9,1.2,.7,1.0,.6,1.1,.8,
.9,.5,1.2,.7,1.0,.6,1.3,.8,1.0,.5,1.1,.7,1.2,.6,.9,.5,.8,1.1,.7,1.0,
.8,1.2,.6,.9,.5,1.1,.7,1.0,.6,.9,1.2,.7,1.0,.5,.8,1.1,.6,.9,.7,1.2,
.6,1.0,.7,1.1,.5,.9,1.2,.6,1.0,.7,.9,.6,1.1,.5,.8,1.2,.6,1.0,.7,1.2,
.7,.9,.6,1.1,.8,.5,.9,.6,1.0,.7,.5,1.1,.8,.6,1.0,.7,.9,.5,1.0,.7,
.6,.8,.7,1.1,.5,.7,.5,.8,.6,.9,.5,.7,1.0,.5,.7,.4,.6,.9,.3,.5,
1.0,1.2,.8,1.1,1.3,.7,1.0,1.2,.6,.9,.7,.5,.8,.6,.8,1.0,1.1,.5,.6,.4
];
const exprPI15 = [
.1,0,0,.2,0,.1,.1,0,.2,0,0,.1,.2,0,.1,0,0,0,.1,.2,
0,.1,.2,0,0,.1,0,.2,.1,0,0,0,.1,.2,0,.1,.1,0,.2,0,
.2,0,.1,0,.1,.2,0,0,0,.1,.2,0,.1,0,.2,0,.1,.1,0,0,
.1,.2,0,0,.1,0,0,.2,.1,.1,0,.2,0,0,.1,.2,0,0,.1,0,
0,0,.2,.1,0,.1,1.0,.2,0,.1,0,0,.2,.1,0,0,.1,.2,0,.1,
.2,.1,0,0,.1,0,.2,0,.1,.1,0,.2,0,.1,0,0,.2,.1,0,.1,
0,.1,0,.2,0,.1,.2,0,0,.1,.2,0,.9,.1,0,0,.1,.2,0,.1,
.1,0,.2,0,0,.1,.1,.2,0,0,.1,0,.2,.1,0,.2,0,0,.1,0,
.2,0,0,.1,.2,0,.1,0,.1,.2,0,0,.1,0,.2,.1,0,0,.2,.1,
0,.2,.1,0,.1,.9,0,.1,.2,0,0,.1,0,.2,.1,0,.1,.2,0,0,
.1,0,0,.2,.1,.1,0,0,.2,.1,0,.2,0,.1,0,.2,.1,0,0,.1,
0,.1,.2,0,0,.1,.2,.1,0,0,.2,.1,0,.6,.1,0,.2,0,.1,0,
.1,0,.1,.2,0,0,.2,.1,0,.1,.2,0,0,.1,.2,0,.1,.1,0,.2,
0,.2,0,.1,.1,0,.2,0,.1,.1,0,.2,.1,0,0,.2,.1,0,.2,0,
.2,.1,0,0,.2,.1,0,.1,.2,.3,.1,0,.2,0,.1,.2,0,.1,.1,0,
0,.1,.2,.1,0,.1,0,.2,.1,0,.2,0,.1,.1,0,.2,.1,.1,.2,.2,
.1,.2,0,.1,.3,.2,.1,.9,.2,.3,.1,0,.2,.1,.3,.2,.4,.1,.2,.3,
.2,.3,.4,.2,.5,.3,.2,.4,.6,.3,.2,.7,.3,.2,.5,.4,.3,.6,.5,.3,
.2,.1,.3,.2,.1,.2,.3,.2,.1,.3,.2,.4,.2,.3,.1,.3,.2,.4,.3,.2,
.3,.2,.4,.2,.3,.1,.3,.2,.4,.3,.2,.3,.1,.3,.4,.3,.2,.4,.3,.4,
.2,.3,.4,.3,.4,.5,.3,.4,.5,.4,.6,.3,.5,.6,.5,.7,.4,.5,.6,.8,
.2,.3,.2,.3,.2,.4,.3,.6,.5,.4,.7,.3,.4,.5,.6,.8,.7,.9,.6,.5,
.7,.6,.5,.2,.3,.9,1.1,.8,.7,.6,.9,.6,.5,.4,.8,1.2,1.0,.8,.9,.7,
.8,.6,.7,.5,.4,.3,.3,1.6,1.3,1.1,1.0,.9,.8,1.0,.7,.6,.5,.7,.4,.3,
2.2,1.9,2.5,1.7,1.3,1.2,1.0,.9,.8,.6,.7,.5,.6,.4,.3,.2,1.6,2.1,1.9,2.3,
1.7,1.4,1.1,.9,.8,.7,.6,.5,.6,.4,.3,.2,.2,1.4,1.8,2.0,2.3,1.9,1.6,1.3,
1.0,.8,.7,.6,.5,.4,.5,.3,.2,1.5,1.7,1.9,1.4,2.0,1.8,1.6,1.9,1.5,1.2,.9,
.7,.6,.5,.4,.3,.3,.2,.2,1.5,1.2,1.6,1.8,2.2,1.7,2.8,1.4,1.0,.7,.6,.5,
.3,.2,.2,.1,.2,.1,.2,1.0,1.2,1.4,.9,.6,.5,.4,.3,.2,.1,.2,.1,.3,
.1,.2,.1,.4,.3,.2,.1,.2,.9,.1,.3,0,.1,.2,.3,.2,.1,.2,.1,.3,
.1,0,.2,.6,.2,.1,.3,0,.1,.2,0,.2,.1,.3,.1,.2,.1,.8,.2,.1,
.2,.1,0,.1,.2,.1,.3,.1,.2,0,.1,1.1,1.0,.7,.4,.8,.5,.8,.4,.3,
.3,.5,.2,.1,.3,.2,.1,.3,.4,.3,.2,.3,.4,.2,.1,.2,.2,.3,.5,.4,
0,.1,.2,0,.1,1.9,1.7,1.3,2.2,2.4,1.9,1.1,1.2,1.1,1.6,1.4,1.5,1.7,1.8,1.5,
.1,.2,0,0,.1,.3,0,.1,.2,.1,0,.2,.2,.1,.3,.1,.2,.1,.3,.1,
.8,.7,.9,.6,.7,.5,.6,.1,.2,1.1,1.2,1.0,.9,.8,.7,.6,.5,.4,.5,.3,
2.0,1.8,1.5,1.6,1.2,1.1,.9,.8,.7,.6,.5,.5,.4,.3,.3,.2,2.0,2.3,1.7,1.5,
1.3,1.1,.8,.7,.6,.6,.5,.4,.3,.3,.2,1.7,1.6,1.9,2.2,1.8,1.6,1.4,1.1,.9,
.8,.7,.6,.5,.4,.4,.3,.2,.2,1.5,1.6,2.0,1.7,1.9,1.8,1.3,1.2,1.0,.8,.7,
.5,.4,.3,.3,.2,.2,.3,.1,1.4,1.8,1.6,1.4,1.9,1.5,1.2,1.0,.8,.7,.6,.5,
.3,.3,.2,.2,.1,.2,.1,.9,1.1,.8,.5,.4,.4,.3,.2,.1,.2,.3,.1,.2,
.4,.3,.2,.2,.1,.3,.1,.2,.3,.1,.2,.3,.2,.2,.1,.3,.2,0,.1,.2,
.2,.2,.1,.3,.1,.2,0,.1,.2,.3,.1,.2,.1,.3,.2,.1,.2,.1,0,.1,
.1,.2,.1,.3,.2,.3,.4,.3,.5,.2,.4,.3,.2,.1,.2,.3,.2,.3,.1,.2,
.3,.2,.3,.2,.4,.2,.3,.2,.3,.4,.2,.3,.2,.4,.5,.4,.5,.6,.4,.5,
.5,.6,.4,.6,.5,.7,.4,.5,.6,.7,.8,.6,.7,.5,.6,.4,1.0,1.4,1.8,1.5,
.4,.3,.3,.2,.4,.3,.5,.3,.4,.2,.4,.3,.5,.2,.2,.1,.2,.3,.4,1.0,
.1,0,.2,0,.1,0,0,.2,.1,.1,0,.2,0,.1,.1,0,.2,0,0,.1,
0,.1,.2,.1,0,.2,0,0,.1,.2,0,.1,0,.8,.1,.2,0,.1,.2,0,
.2,0,.1,0,.2,.1,0,.1,.1,0,.2,0,.1,.2,0,.1,.1,.6,0,.2,
0,.2,.1,0,.1,0,.2,.1,0,.1,.2,0,0,.1,.2,.1,0,.2,.1,0,
.1,0,.2,.1,0,.1,0,.2,.2,0,.1,0,.1,.2,0,0,.2,.1,0,.1,
0,.2,.1,0,.2,.1,0,.1,.2,0,.1,.2,0,.1,0,.2,.7,.1,.2,0,
.2,0,.1,.2,0,.1,.1,0,.2,.1,0,.2,.1,0,.2,0,.1,.1,.2,0
];
const exprZFP36L1 = [
.2,.1,.3,.2,.4,.3,.1,.4,.2,.3,.1,.6,.2,.4,.1,.2,.3,.1,.4,.3,
.1,.3,.2,.4,.3,.1,.2,.4,.3,.1,.2,.4,.1,.2,.3,.4,.1,.3,.2,.4,
.2,.4,.1,.2,.3,.1,.4,.3,.2,.1,.4,.3,.2,.3,.1,.2,.4,.1,.3,.2,
.4,.3,.1,.2,.4,.2,.3,.1,.2,.4,.3,.1,.3,.2,.4,.3,.1,.2,.3,.4,
.3,.1,.2,.4,1.0,.3,.2,.1,.3,.4,.2,.3,.1,.2,.4,.2,.3,.1,.4,.2,
.4,.2,.3,.1,.2,.3,.4,.2,.3,.1,.1,.2,.1,.3,.4,.3,.2,.1,.3,.4,
.2,.3,.1,.4,0,.3,.2,.4,.1,.2,.3,.4,.2,.3,.1,.3,.2,.1,.4,.1,
.3,.4,.2,.1,.3,.2,.4,.3,.1,.3,.2,.4,.1,.8,.1,.2,0,.2,.3,.4,
.2,.3,.4,.1,.8,.3,.2,.3,.1,.4,.1,.2,0,.3,.4,.2,.1,.3,0,.2,
.1,.2,.3,.4,.2,.9,.3,.1,.2,.1,.3,.4,.2,.1,.3,.2,.4,.1,.2,.3,
.3,.4,.2,.1,.3,.2,.4,.1,.2,.3,.4,.2,.3,.1,.3,.4,.2,.3,.1,.2,
.2,.4,.3,.1,.3,.2,.3,.4,.1,.3,.2,.4,.3,.1,.3,.2,.4,.3,.1,.3,
.3,.1,.4,.3,.2,.1,.5,.3,.2,.4,.6,.2,.1,.3,.9,.3,.2,.4,.5,.8,
.3,.1,.3,.8,.4,.3,.2,.9,2.4,.7,1.0,2.2,.9,.6,.6,.8,.5,.3,.6,.2,
.2,.3,.1,.7,.3,.4,.2,.3,.1,.3,.4,.5,.4,.3,.6,.4,.5,.9,.6,.4,
.8,.6,1.3,.5,.9,.4,.3,1.1,.3,.1,.3,.2,.4,.2,.4,.5,.4,1.0,.8,1.4,
1.5,1.0,.9,.7,1.4,.8,1.1,.9,1.3,1.6,.8,1.0,1.4,.9,1.1,1.7,1.3,.9,1.1,1.3,
1.2,1.5,1.0,1.3,1.6,1.2,1.7,1.8,1.3,1.5,1.9,1.4,1.2,1.6,1.3,1.7,1.4,1.2,1.5,1.3,
1.4,2.9,2.0,1.6,2.3,2.0,1.8,2.5,1.3,2.0,1.6,1.9,2.3,1.5,1.9,1.7,2.1,2.2,1.5,1.8,
1.9,1.4,2.2,1.7,2.0,1.6,2.1,1.5,1.8,1.3,2.0,2.3,1.8,2.1,2.7,2.4,1.7,2.2,3.0,2.6,
1.8,1.4,1.2,1.9,2.1,1.3,1.8,1.4,1.6,2.1,1.4,1.7,1.5,1.9,1.4,1.7,1.2,2.0,1.6,1.3,
.4,.6,.3,.9,1.2,1.7,1.3,1.9,1.4,1.6,2.3,1.5,1.7,1.2,1.5,1.3,1.8,1.4,1.6,1.2,
1.7,1.4,1.9,1.0,1.2,1.3,1.8,1.4,1.6,1.3,1.9,1.5,2.0,1.7,1.2,1.6,1.3,1.8,1.4,1.5,
1.3,1.8,1.5,1.9,2.1,2.0,1.7,1.1,1.4,1.2,1.6,1.3,1.7,1.4,1.8,1.5,1.3,1.7,2.0,1.9,
1.2,1.0,1.3,1.5,1.1,1.6,1.4,1.7,1.5,2.0,1.8,2.2,2.3,2.0,2.6,1.1,1.4,1.0,1.2,.9,
1.7,1.4,2.0,1.6,1.9,2.2,2.4,2.5,2.2,2.8,1.3,.6,1.0,1.3,.8,1.2,1.5,1.0,1.3,.9,
1.9,1.5,1.8,1.4,2.2,1.8,2.1,2.5,2.0,2.6,1.2,1.0,1.4,.9,1.3,1.1,1.5,1.7,1.9,1.4,
2.3,1.8,2.2,1.6,2.0,2.6,2.2,1.7,.5,1.1,.9,1.3,1.2,1.5,.9,1.2,1.8,2.1,1.6,2.4,
1.9,2.5,1.8,2.3,2.6,2.1,2.7,1.7,1.9,1.6,1.8,1.9,2.2,2.6,.4,2.8,2.2,2.6,2.1,2.5,
2.2,2.7,2.8,1.9,2.6,2.3,2.7,2.0,2.5,1.8,2.6,2.9,3.0,2.6,2.1,2.5,2.9,2.3,2.6,3.0,
2.6,3.0,2.8,3.2,2.3,2.7,2.1,2.5,2.9,2.3,3.3,1.9,2.5,2.7,3.2,2.0,2.4,1.7,2.0,1.6,
1.9,2.3,1.5,2.0,1.4,1.8,1.6,.6,1.1,1.3,.8,2.1,2.3,1.8,2.2,2.5,2.0,2.4,1.9,2.7,
2.6,2.0,2.4,2.2,2.6,2.1,2.5,2.3,1.9,2.2,2.3,1.8,2.6,2.9,2.4,2.1,2.6,2.8,2.0,2.4,
.9,.7,1.0,1.2,.8,1.5,1.2,1.4,1.1,1.0,1.3,1.5,1.3,1.1,1.2,1.4,1.3,1.6,1.1,1.4,
1.5,2.0,1.7,1.3,1.6,2.2,1.9,2.4,2.3,2.6,2.8,2.7,3.0,2.6,2.8,3.1,2.4,2.7,2.3,2.5,
1.6,1.4,1.8,1.3,1.7,1.9,1.5,.9,1.1,1.2,1.4,1.6,1.3,1.7,1.5,1.9,1.4,1.8,2.0,2.2,
1.3,1.0,1.2,1.5,1.1,1.4,1.8,1.3,1.6,1.9,1.4,1.7,1.5,2.2,1.8,2.4,.8,1.1,1.3,1.0,
1.2,1.5,1.7,1.4,1.8,1.3,1.6,2.0,1.5,2.1,2.3,.9,.5,1.0,1.2,1.4,1.1,1.3,1.5,1.2,
1.9,1.4,1.7,1.3,1.8,1.5,2.1,2.4,2.0,.5,.9,1.2,1.1,1.4,1.0,1.3,1.5,1.2,1.7,1.4,
1.8,1.4,2.0,1.7,2.2,1.8,2.4,2.6,1.4,1.1,1.3,1.5,1.2,1.6,1.4,1.7,1.5,1.9,1.4,1.8,
2.2,1.8,2.4,2.0,2.5,2.2,2.6,1.9,1.6,2.1,2.2,1.8,2.3,2.6,2.0,2.4,2.7,2.1,2.5,2.3,
1.8,2.4,2.1,2.6,2.0,2.3,2.7,2.4,2.1,2.6,2.8,2.2,2.6,2.0,2.4,2.7,2.3,2.6,2.2,2.8,
2.1,2.5,2.0,2.3,2.7,2.4,2.8,2.2,2.6,2.3,2.0,2.4,2.6,2.9,2.3,2.6,1.9,2.2,2.5,1.7,
1.1,1.4,1.0,1.3,1.6,1.4,1.2,1.5,1.3,1.1,1.6,1.4,2.2,1.7,2.5,1.9,2.3,1.7,2.1,1.8,
2.0,1.6,2.3,1.8,2.1,1.7,2.2,1.6,2.0,2.4,2.2,1.8,1.5,1.7,1.5,1.3,1.8,1.6,1.4,1.7,
1.5,1.7,1.3,1.8,1.6,1.4,1.9,1.8,1.5,1.7,1.4,1.6,1.3,1.8,1.5,2.1,1.4,1.2,.9,1.2,
1.9,2.5,1.7,2.7,2.0,1.6,2.2,1.8,2.4,2.1,1.7,2.3,2.6,2.2,2.8,2.3,2.6,2.0,1.9,1.6,
.2,.4,.1,.3,.2,.4,.3,.1,.2,.4,.3,.1,.3,.2,.4,.5,.1,.3,.2,.4,
.3,.1,.4,.2,.3,.1,.2,.4,.3,.2,.1,.4,.3,.9,.2,.4,.3,.1,.2,.3,
.4,.2,.1,.3,.2,.1,.4,.3,.2,.4,.3,.1,.2,.3,.1,.4,.2,.1,.3,.2,
.1,.3,.4,.2,.3,.1,.4,.1,.2,0,.3,.2,.4,.3,.1,.3,.2,.1,.4,.1,
.3,.2,.4,.1,.2,.3,.4,.2,.1,.3,.2,.4,.3,.1,.2,.1,.3,.4,.2,.3,
.2,.4,.1,.1,.3,.2,.4,.3,.1,.2,.1,.3,.4,.2,.3,.4,.1,.2,.3,.2,
.4,.1,.3,.2,.4,.1,.3,.2,.4,.1,.3,.4,.6,.3,.4,.7,.5,1.0,.6,1.1
];
const exprNTRK2 = [
.4,.3,.6,.8,.5,.7,1.0,.6,.9,.5,.4,.8,.9,.6,.7,1.1,.5,.8,.9,.6,
.6,.5,.3,.7,.4,.6,.5,.2,1.0,.7,.9,.6,.5,.4,.9,.7,.5,.8,.6,.4,
.8,1.3,.7,.9,.6,.4,.5,.3,1.0,.8,.6,1.1,.5,.4,.7,.5,.4,.9,.6,.8,
.5,.4,.6,.3,.7,.5,1.1,.8,.9,.6,.4,.5,.3,.6,.4,.8,.5,.9,1.2,.7,
.8,.5,.9,.6,.5,1.4,.8,.6,1.2,.9,1.0,.7,.6,.9,.5,.4,.3,.8,.6,1.1,
1.1,1.3,1.0,.7,1.2,.8,.6,.9,.5,.4,.8,.6,.9,1.2,1.0,1.4,.9,1.2,.8,1.0,
.7,.8,.4,.6,.3,.7,1.0,1.1,.8,1.3,1.0,.7,1.2,.6,.8,.9,.4,.3,.5,1.0,
.9,1.2,.7,1.0,.8,1.1,1.0,.6,.9,.7,1.1,.8,.5,.7,.4,.6,.3,.8,1.0,.6,
.8,1.0,.6,.9,.4,.7,.9,.7,1.0,1.2,.5,.8,.6,.4,.9,1.1,.7,.8,.6,.9,
.7,.8,.6,.9,.7,1.0,.8,.6,1.0,.9,.7,.6,.8,1.0,.6,.9,.7,.8,1.1,.6,
.5,1.0,.7,.9,.8,1.1,.6,.7,.9,.5,.8,1.0,.9,.8,.7,1.0,.6,.5,.8,.7,
.8,1.0,.9,1.1,.7,.9,1.0,.8,.6,.9,.5,.7,.8,.4,.6,.7,.9,.5,.6,.8,
.4,.6,.3,.5,.7,.6,.4,.8,.5,.7,.6,.8,1.0,.5,.7,1.4,.9,.6,1.3,.8,
.5,.9,.4,.7,1.2,.6,.8,1.0,.5,1.1,1.5,1.3,.8,1.0,1.1,.8,.6,1.2,.9,1.1,
.5,.7,.6,.4,.8,.6,.9,.7,.5,.6,.2,.6,.5,.8,.7,.5,.6,.9,.7,.5,
.6,.4,.7,.5,.2,.6,.5,.8,.9,.5,.4,.6,.8,.5,.7,.6,.8,1.0,.7,.9,
1.1,1.6,1.2,1.4,1.7,1.0,1.5,1.2,1.3,1.7,1.4,1.1,1.5,1.3,1.6,1.2,1.4,1.1,1.5,1.3,
1.5,1.2,1.4,1.1,1.3,1.6,1.2,1.4,1.7,1.3,1.2,1.5,1.3,1.6,1.2,1.5,1.4,1.2,1.6,1.3,
1.0,1.2,1.1,1.3,.9,1.2,1.0,1.3,1.1,.8,1.2,1.4,1.0,1.1,1.3,.6,1.0,1.2,.9,1.1,
1.2,1.0,.4,1.1,1.3,.9,.8,1.2,.7,1.0,.6,.5,1.0,1.2,1.0,.7,1.1,.9,.8,.5,
1.2,1.3,1.5,1.2,1.4,1.6,2.4,1.3,1.5,1.2,1.4,1.7,1.3,1.5,1.6,1.3,1.5,1.2,1.4,1.6,
1.4,1.2,1.5,1.3,1.6,1.4,1.5,1.7,1.4,1.6,1.3,1.5,1.6,1.4,1.5,1.7,1.5,1.4,1.6,1.4,
1.5,1.4,1.6,2.6,2.8,1.6,1.4,1.6,1.5,1.7,1.5,1.4,1.6,1.5,1.7,1.8,1.5,1.6,1.4,1.7,
1.5,1.3,1.6,1.4,1.5,1.3,1.6,2.2,2.0,1.8,1.7,1.6,1.5,1.4,1.6,1.5,1.3,1.6,1.2,1.4,
2.9,3.1,2.4,2.0,1.7,1.6,1.4,1.5,1.3,1.6,1.4,1.5,1.3,1.2,1.4,1.1,2.7,3.0,3.2,2.8,
2.2,1.9,1.7,1.5,1.6,1.4,1.3,1.5,1.4,1.2,1.3,1.1,1.2,2.7,3.1,3.3,3.0,2.6,2.4,2.0,
1.6,1.5,1.4,1.6,1.3,1.4,1.2,1.3,1.1,2.7,2.4,2.8,3.0,3.3,3.5,3.1,2.9,2.4,1.9,1.6,
1.5,1.4,1.3,1.5,1.2,1.1,1.3,1.0,2.2,2.6,2.9,3.0,3.3,2.9,3.6,2.8,1.7,1.5,1.6,1.4,
1.3,1.2,.9,1.0,.8,1.2,1.0,1.8,1.7,1.5,1.3,1.9,1.6,1.4,1.5,1.3,1.6,1.4,1.2,1.1,
.8,1.1,.7,1.6,1.4,1.2,1.5,1.0,1.3,.9,.6,.5,.3,.9,1.3,1.5,1.1,1.4,.8,.6,
.9,1.2,.7,.6,1.5,1.2,1.4,1.0,.7,.4,.9,1.6,1.3,.5,1.1,1.2,.9,1.0,.8,1.1,
.9,.7,1.0,.8,.6,.9,.7,.8,.5,.6,.3,1.3,1.5,1.7,1.6,1.3,1.9,1.4,1.5,2.3,
1.4,1.2,1.5,1.4,1.3,1.6,1.4,1.2,.9,1.5,1.4,1.3,1.6,1.5,1.7,1.8,1.2,1.4,1.3,1.6,
2.4,2.5,2.2,1.9,1.2,2.8,3.0,2.7,2.6,2.9,2.7,2.3,2.7,3.0,2.6,2.9,2.7,3.1,2.8,2.5,
1.9,1.2,1.4,1.0,1.5,1.2,1.3,1.1,.9,.7,1.3,1.0,1.0,.9,1.2,.8,1.1,.9,1.0,.7,
1.5,1.3,1.6,1.4,1.7,1.5,1.3,1.0,.8,1.6,1.8,1.5,1.3,1.6,1.4,1.6,1.5,1.3,1.6,1.4,
2.9,2.7,3.0,2.3,2.0,1.8,1.5,1.7,1.4,1.6,1.3,1.5,1.4,1.2,1.4,1.1,2.8,3.2,3.0,2.7,
2.3,1.9,1.6,1.4,1.6,1.3,1.5,1.3,1.4,1.2,1.1,3.0,2.6,2.9,3.1,3.3,3.0,2.5,2.1,1.8,
1.5,1.6,1.3,1.5,1.4,1.2,1.3,1.0,1.1,2.8,3.0,3.2,2.8,3.4,3.2,2.9,2.5,2.1,1.7,1.5,
1.4,1.3,1.5,1.2,1.3,1.1,1.0,.9,2.6,2.8,3.1,3.0,2.8,2.6,2.3,2.0,1.7,1.6,1.4,1.5,
1.3,1.1,1.2,1.0,1.1,.9,1.0,1.7,1.6,1.4,1.5,1.3,1.5,1.2,1.3,1.1,1.2,1.0,.9,1.1,
1.3,1.5,1.2,1.3,1.0,1.2,.9,1.1,.8,1.0,.7,1.3,1.4,1.1,1.2,1.0,.8,1.1,.7,.9,
1.2,1.0,1.3,1.1,.9,1.2,.8,1.0,.7,1.1,1.3,.9,1.1,.8,1.0,.7,1.2,.9,1.0,1.1,
1.2,1.3,1.0,1.2,1.4,1.1,1.3,1.2,1.5,1.1,1.3,1.2,1.0,1.2,.9,1.1,1.0,1.3,1.0,1.1,
1.2,.9,1.1,1.3,1.0,1.2,.8,1.1,.9,1.2,.7,1.0,1.2,1.3,1.4,1.3,1.5,1.3,1.4,1.3,
1.5,1.3,1.6,1.4,1.5,1.3,1.5,1.4,1.6,1.5,1.3,1.6,1.4,1.5,1.3,1.6,1.7,2.6,2.8,2.3,
1.3,1.5,1.2,1.6,1.3,1.5,1.7,1.2,1.4,1.1,1.5,1.3,1.6,1.4,1.7,2.0,1.5,1.1,1.3,1.4,
.5,.4,.7,.9,.6,.4,.6,.5,.4,1.0,.8,.7,.6,.4,.5,.3,.6,1.1,.9,.7,
.5,.7,.4,.6,.5,.8,1.0,.7,.9,.6,.5,.7,.4,.6,.5,.8,1.2,.9,.8,.6,
.8,.5,.7,.4,.6,.5,.4,1.1,.8,1.2,.7,.9,.6,.5,.4,.7,.5,.8,1.2,.9,
1.0,.7,1.2,.8,.6,.9,.5,.7,.4,.6,1.2,1.0,1.3,.9,1.1,.8,.6,.7,.4,.8,
1.2,.9,1.3,1.0,.8,1.1,1.0,.7,1.2,.8,1.0,.6,.7,.5,.8,.6,.9,1.1,.7,1.0,
.8,1.0,.7,.9,.6,.9,.7,1.0,.8,.7,.8,.6,.9,1.0,.8,.7,.6,.8,.9,.7,
.4,.5,.6,.4,.5,.7,.4,.6,.5,.7,.4,.6,.5,.7,.6,.8,.6,.7,.5,.8
];
const exprByGene = [exprPTPRZ1,exprQKI,exprGPM6B,exprPI15,exprZFP36L1,exprNTRK2];

const panelWidth = 576, panelHeight = 1152;
const xDomain = [0,57.6], xRange = [0,576];
const yDomain = [0,115.2], yRange = [0,1152];
const barX = 502, barW = 46, barTop = 492, barBottom = 722.6;
const pointRadius = 4.5;

function xScale(v){ return xRange[0] + (v-xDomain[0])/(xDomain[1]-xDomain[0])*(xRange[1]-xRange[0]); }
function yScale(v){ return yRange[0] + (v-yDomain[0])/(yDomain[1]-yDomain[0])*(yRange[1]-yRange[0]); }

function rgb2lab(c){
  const l = c.map(v=>{v/=255;return v<=0.04045?v/12.92:Math.pow((v+0.055)/1.055,2.4);});
  const X=(0.4124564*l[0]+0.3575761*l[1]+0.1804375*l[2])/0.95047;
  const Y=(0.2126729*l[0]+0.7151522*l[1]+0.0721750*l[2]);
  const Z=(0.0193339*l[0]+0.1191920*l[1]+0.9503041*l[2])/1.08883;
  const f=t=>t>0.008856?Math.cbrt(t):7.787*t+16/116;
  return [116*f(Y)-16,500*(f(X)-f(Y)),200*(f(Y)-f(Z))];
}
function lab2rgb(L){
  const fy=(L[0]+16)/116,fx=L[1]/500+fy,fz=fy-L[2]/200;
  const g=t=>t*t*t>0.008856?t*t*t:(t-16/116)/7.787;
  const X=g(fx)*0.95047,Y=g(fy),Z=g(fz)*1.08883;
  const r=3.2404542*X-1.5371385*Y-0.4985314*Z;
  const gg=-0.9692660*X+1.8760108*Y+0.0415560*Z;
  const b=0.0556434*X-0.2040259*Y+1.0572252*Z;
  const out=[r,gg,b].map(v=>{v=Math.max(0,Math.min(1,v));v=v<=0.0031308?12.92*v:1.055*Math.pow(v,1/2.4)-0.055;return Math.round(v*255);});
  return "rgb("+out.join(",")+")";
}
const labLow = rgb2lab([211,211,211]);
const labHigh = rgb2lab([0,0,255]);
function colorAt(t){
  t=Math.max(0,Math.min(1,t));
  return lab2rgb([0,1,2].map(i=>labLow[i]+(labHigh[i]-labLow[i])*t));
}

const NS = "http://www.w3.org/2000/svg";
const svg = document.getElementById("chart");

const defs = document.createElementNS(NS,"defs");
const grad = document.createElementNS(NS,"linearGradient");
grad.setAttribute("id","barGradient");
grad.setAttribute("x1","0");grad.setAttribute("y1","1");grad.setAttribute("x2","0");grad.setAttribute("y2","0");
for(let s=0;s<=20;s++){
  const st=document.createElementNS(NS,"stop");
  st.setAttribute("offset",s/20);
  st.setAttribute("stop-color",colorAt(s/20));
  grad.appendChild(st);
}
defs.appendChild(grad);
svg.appendChild(defs);

geneNames.forEach((gene,g)=>{
  const ox = (g%4)*panelWidth;
  const oy = Math.floor(g/4)*panelHeight;
  const panel = document.createElementNS(NS,"g");
  panel.setAttribute("transform","translate("+ox+","+oy+")");
  
  

  const title = document.createElementNS(NS,"text");
  
  
  title.setAttribute("x",0);
  title.setAttribute("y",348.5);
  title.setAttribute("font-size",34.5);
  title.textContent = gene;
  panel.appendChild(title);

  const lo = limitsLow[g], hi = limitsHigh[g];
  const values = exprByGene[g];
  const points = document.createElementNS(NS,"g");
  
  
  for(let i=0;i<umap1.length;i++){
    const c = document.createElementNS(NS,"circle");
    
    
    c.setAttribute("cx",xScale(umap1[i]).toFixed(1));
    c.setAttribute("cy",yScale(umap2[i]).toFixed(1));
    c.setAttribute("r",pointRadius);
    const v = values[i]===undefined?0:values[i];
    c.setAttribute("fill",colorAt((v-lo)/(hi-lo)));
    points.appendChild(c);
  }
  panel.appendChild(points);

  const legend = document.createElementNS(NS,"g");
  
  
  const bar = document.createElementNS(NS,"rect");
  
  
  bar.setAttribute("x",barX);bar.setAttribute("y",barTop);
  bar.setAttribute("width",barW);bar.setAttribute("height",barBottom-barTop);
  bar.setAttribute("fill","url(#barGradient)");
  legend.appendChild(bar);
  const barScale = v => barBottom-(v-lo)/(hi-lo)*(barBottom-barTop);
  tickLabels[g].forEach(t=>{
    const y = barScale(t);
    [[barX,barX+barW/5],[barX+barW*4/5,barX+barW]].forEach(seg=>{
      const tick=document.createElementNS(NS,"line");
      
      
      tick.setAttribute("x1",seg[0]);tick.setAttribute("x2",seg[1]);
      tick.setAttribute("y1",y);tick.setAttribute("y2",y);
      tick.setAttribute("stroke","#ffffff");
      tick.setAttribute("stroke-width",1.2);
      legend.appendChild(tick);
    });
    const label=document.createElementNS(NS,"text");
    
    
    label.setAttribute("x",562.5);
    label.setAttribute("y",y+8.4);
    label.setAttribute("font-size",24);
    label.textContent=t;
    legend.appendChild(label);
  });
  panel.appendChild(legend);
  svg.appendChild(panel);
});
</script>
</body>
</html>
